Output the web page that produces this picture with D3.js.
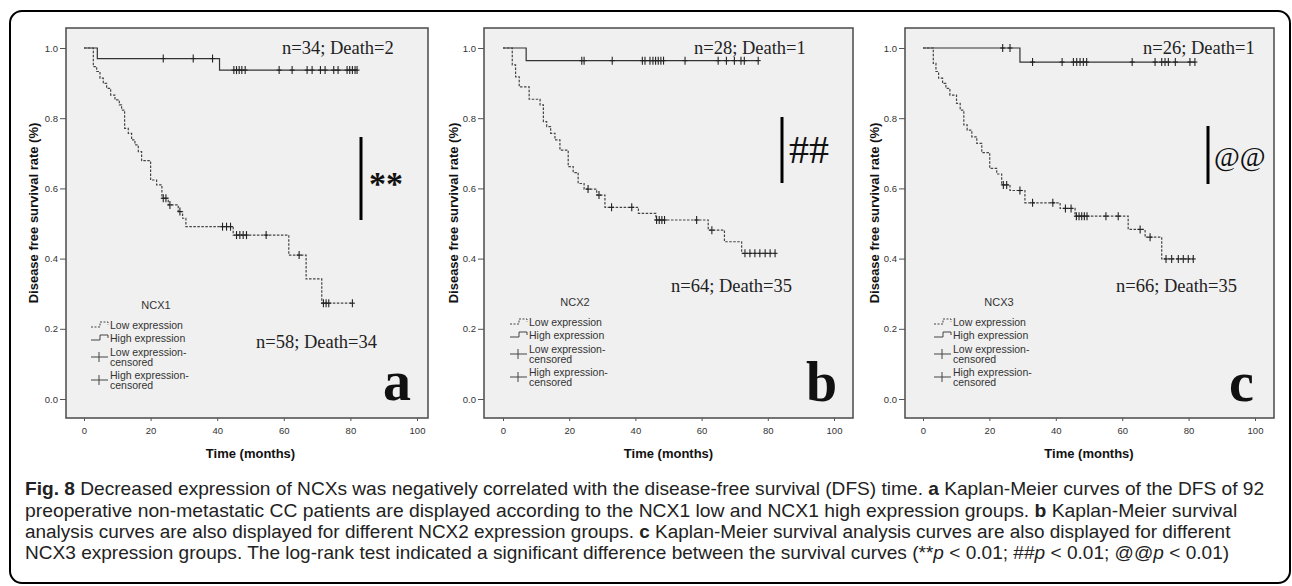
<!DOCTYPE html>
<html>
<head>
<meta charset="utf-8">
<script src="https://cdn.jsdelivr.net/npm/d3@7"></script>
<style>
  html, body { margin: 0; padding: 0; background: #fff; }
  svg { display: block; }
</style>
</head>
<body>
<svg id="canvas" width="1292" height="586"></svg>
<script>
const timeTicks = [0, 20, 40, 60, 80, 100]
const rateTicks = [0.0, 0.2, 0.4, 0.6, 0.8, 1.0]
const legendLabels = ["Low expression", "High expression", "Low expression-|censored", "High expression-|censored"]

// NCX1 (panel a)
const ncx1HighSteps = [[0, 1], [4, 0.970], [40.7, 0.937]]
const ncx1HighEnd = 82
const ncx1HighCensor = [23.8, 32.8, 38.6, 45, 45.8, 46.6, 47.4, 48.4, 58.6, 62.5, 67, 68.5, 71, 72.4, 75, 76.3, 79, 79.8, 80.6, 81.4, 82]
const ncx1LowSteps = [[0, 1], [2.8, 0.947], [3.8, 0.933], [4.8, 0.914], [5.8, 0.899], [6.8, 0.885], [8, 0.866], [9.3, 0.852],
  [10.6, 0.838], [11.3, 0.823], [12.2, 0.771], [13.3, 0.757], [14.3, 0.738], [15.3, 0.724], [16.3, 0.705], [17.3, 0.679],
  [20, 0.624], [21.8, 0.610], [23.4, 0.572], [25.3, 0.553], [28.3, 0.534], [29.6, 0.515], [30.6, 0.491], [44.8, 0.467],
  [61.5, 0.410], [66.7, 0.342], [71.4, 0.273]]
const ncx1LowEnd = 80.6
const ncx1LowCensor = [23.8, 24.6, 25.8, 28.8, 41.6, 42.8, 44.0, 45.8, 46.8, 47.8, 48.8, 54.7, 64.6, 71.9, 72.7, 73.5, 80.6]

// NCX2 (panel b)
const ncx2HighSteps = [[0, 1], [7, 0.964]]
const ncx2HighEnd = 77.1
const ncx2HighCensor = [23.8, 24.5, 33.0, 42.1, 42.9, 44.4, 45.3, 46.1, 46.9, 47.7, 48.5, 55.0, 65.0, 67.5, 69.9, 71.9, 72.9, 77.1]
const ncx2LowSteps = [[0, 1], [2.8, 0.952], [3.8, 0.918], [4.9, 0.889], [7.9, 0.854], [11.2, 0.838], [12.2, 0.790],
  [13.2, 0.776], [14.4, 0.757], [15.7, 0.738], [17.2, 0.709], [19.7, 0.662], [21.2, 0.645], [22.7, 0.614], [24.5, 0.598],
  [28.3, 0.581], [30.8, 0.546], [40.9, 0.529], [46.2, 0.510], [62.0, 0.481], [66.9, 0.448], [72.1, 0.415]]
const ncx2LowEnd = 82.2
const ncx2LowCensor = [25.7, 29.0, 32.8, 38.9, 46.4, 47.2, 48.0, 48.8, 58.5, 63.1, 73.1, 74.6, 76.1, 77.6, 79.2, 80.7, 82.2]

// NCX3 (panel c)
const ncx3HighSteps = [[0, 1], [29.2, 0.960]]
const ncx3HighEnd = 81.9
const ncx3HighCensor = [24.0, 26.2, 33.0, 41.9, 45.3, 46.3, 47.3, 48.3, 49.3, 63.0, 69.9, 71.9, 72.9, 73.9, 76.0, 80.4, 81.9]
const ncx3LowSteps = [[0, 1], [3.1, 0.956], [3.9, 0.933], [4.7, 0.914], [5.9, 0.899], [6.9, 0.885], [8.1, 0.866], [10.1, 0.842],
  [11.2, 0.823], [12.3, 0.781], [13.3, 0.766], [14.7, 0.747], [16.2, 0.728], [17.7, 0.702], [20.1, 0.657], [22.2, 0.641],
  [23.7, 0.610], [26.2, 0.594], [30.7, 0.559], [41.3, 0.543], [45.8, 0.521], [61.8, 0.483], [66.9, 0.461], [71.9, 0.399]]
const ncx3LowEnd = 81.5
const ncx3LowCensor = [24.2, 25.2, 29.2, 33.0, 39.1, 42.9, 44.6, 46.2, 47.0, 47.8, 48.6, 49.4, 55.1, 58.8, 65.4, 68.4, 73.2, 74.9, 76.9, 78.4, 79.9, 81.4]

const groupNames = ["NCX1", "NCX2", "NCX3"]
const highCounts = ["n=34; Death=2", "n=28; Death=1", "n=26; Death=1"]
const lowCounts = ["n=58; Death=34", "n=64; Death=35", "n=66; Death=35"]
const signifMarks = ["**", "##", "@@"]
const panelLetters = ["a", "b", "c"]

const captionLines = [
  [["Fig. 8", "b"], [" Decreased expression of NCXs was negatively correlated with the disease-free survival (DFS) time. "], ["a", "b"], [" Kaplan-Meier curves of the DFS of 92"]],
  [["preoperative non-metastatic CC patients are displayed according to the NCX1 low and NCX1 high expression groups. "], ["b", "b"], [" Kaplan-Meier survival"]],
  [["analysis curves are also displayed for different NCX2 expression groups. "], ["c", "b"], [" Kaplan-Meier survival analysis curves are also displayed for different"]],
  [["NCX3 expression groups. The log-rank test indicated a significant difference between the survival curves (**"], ["p", "i"], [" < 0.01; ##"], ["p", "i"], [" < 0.01; @@"], ["p", "i"], [" < 0.01)"]]
]

const panels = [
  { frame: [66, 28, 428, 418], xr: [84, 417], yTitleX: 38, legX: 91, legDy: 3,
    high: ncx1HighSteps, highEnd: ncx1HighEnd, highCens: ncx1HighCensor,
    low: ncx1LowSteps, lowEnd: ncx1LowEnd, lowCens: ncx1LowCensor,
    hiTxt: [282, 54], loTxt: [256, 348], bar: [361, 137, 220],
    sig: { x: 369, y: 195, size: 34, weight: "bold" }, letter: [383, 400] },
  { frame: [484, 28, 853, 418], xr: [503, 834], yTitleX: 458, legX: 510, legDy: 0,
    high: ncx2HighSteps, highEnd: ncx2HighEnd, highCens: ncx2HighCensor,
    low: ncx2LowSteps, lowEnd: ncx2LowEnd, lowCens: ncx2LowCensor,
    hiTxt: [694, 54], loTxt: [671, 292], bar: [782, 117, 183],
    sig: { x: 789, y: 163, size: 40, weight: "normal" }, letter: [806, 401] },
  { frame: [905, 28, 1274, 418], xr: [923, 1255], yTitleX: 879, legX: 934, legDy: 0,
    high: ncx3HighSteps, highEnd: ncx3HighEnd, highCens: ncx3HighCensor,
    low: ncx3LowSteps, lowEnd: ncx3LowEnd, lowCens: ncx3LowCensor,
    hiTxt: [1143, 54], loTxt: [1116, 292], bar: [1208, 126, 184],
    sig: { x: 1214, y: 166, size: 28, weight: "normal" }, letter: [1229, 401] },
]

const svg = d3.select("#canvas")

// outer rounded box
svg.append("rect")
  .attr("x", 10).attr("y", 11).attr("width", 1280).attr("height", 572).attr("rx", 12)
  .attr("fill", "none").attr("stroke", "#000").attr("stroke-width", 2)

const stepAt = (steps, t) => {
  let s = steps[0][1]
  steps.forEach(p => { if (p[0] <= t) s = p[1] })
  return s
}

const drawPanel = (p, i) => {
  const [fx0, fy0, fx1, fy1] = p.frame
  const x = d3.scaleLinear().domain([0, 100]).range(p.xr)
  const y = d3.scaleLinear().domain([0, 1]).range([399, 48])
  const g = svg.append("g")

  g.append("rect")
    .attr("x", fx0).attr("y", fy0).attr("width", fx1 - fx0).attr("height", fy1 - fy0)
    .attr("fill", "#f0f0f0").attr("stroke", "#4a4a4a").attr("stroke-width", 1.5)

  // y axis ticks
  const yAxis = g.append("g").attr("transform", `translate(${fx0},0)`)
    .call(d3.axisLeft(y).tickValues(rateTicks).tickFormat(d3.format(".1f")).tickSize(6).tickPadding(2))
  yAxis.select(".domain").remove()
  yAxis.selectAll("line").attr("stroke", "#555")
  yAxis.selectAll("text").attr("font-family", "Liberation Sans, Arial, sans-serif").attr("font-size", 9.5).attr("fill", "#333")

  const xAxis = g.append("g").attr("transform", `translate(0,${fy1})`)
    .call(d3.axisBottom(x).tickValues(timeTicks).tickSize(3).tickPadding(6))
  xAxis.select(".domain").remove()
  xAxis.selectAll("line").attr("stroke", "#555")
  xAxis.selectAll("text").attr("font-family", "Liberation Sans, Arial, sans-serif").attr("font-size", 9.5).attr("fill", "#333")

  g.append("text")
    .attr("transform", `translate(${p.yTitleX},213) rotate(-90)`)
    .attr("text-anchor", "middle")
    .attr("font-family", "Liberation Sans, Arial, sans-serif").attr("font-weight", "bold").attr("font-size", 13)
    .attr("fill", "#111")
    .text("Disease free survival rate (%)")
  g.append("text")
    .attr("x", (p.xr[0] + p.xr[1]) / 2).attr("y", 458)
    .attr("text-anchor", "middle")
    .attr("font-family", "Liberation Sans, Arial, sans-serif").attr("font-weight", "bold").attr("font-size", 13)
    .attr("fill", "#111")
    .text("Time (months)")

  const line = d3.line().x(d => x(d[0])).y(d => y(d[1])).curve(d3.curveStepAfter)

  const lowPts = p.low.concat([[p.lowEnd, p.low[p.low.length - 1][1]]])
  g.append("path").attr("d", line(lowPts))
    .attr("fill", "none").attr("stroke", "#444").attr("stroke-width", 1.2).attr("stroke-dasharray", "2.5,1.5")
  const highPts = p.high.concat([[p.highEnd, p.high[p.high.length - 1][1]]])
  g.append("path").attr("d", line(highPts))
    .attr("fill", "none").attr("stroke", "#333").attr("stroke-width", 1.2)

  const drawCensor = (times, steps) => {
    g.selectAll(null).data(times).enter().append("line")
      .attr("x1", d => x(d)).attr("x2", d => x(d))
      .attr("y1", d => y(stepAt(steps, d)) - 4).attr("y2", d => y(stepAt(steps, d)) + 4)
      .attr("stroke", "#222").attr("stroke-width", 1.1)
    g.selectAll(null).data(times).enter().append("line")
      .attr("x1", d => x(d) - 2.5).attr("x2", d => x(d) + 2.5)
      .attr("y1", d => y(stepAt(steps, d))).attr("y2", d => y(stepAt(steps, d)))
      .attr("stroke", "#222").attr("stroke-width", 1.1)
  }
  drawCensor(p.lowCens, p.low)
  drawCensor(p.highCens, p.high)

  // counts
  const serif = "Liberation Serif, Times New Roman, serif"
  g.append("text").attr("x", p.hiTxt[0]).attr("y", p.hiTxt[1])
    .attr("font-family", serif).attr("font-size", 18.5).attr("fill", "#222").text(highCounts[i])
  g.append("text").attr("x", p.loTxt[0]).attr("y", p.loTxt[1])
    .attr("font-family", serif).attr("font-size", 18.5).attr("fill", "#222").text(lowCounts[i])

  g.append("line").attr("x1", p.bar[0]).attr("x2", p.bar[0]).attr("y1", p.bar[1]).attr("y2", p.bar[2])
    .attr("stroke", "#000").attr("stroke-width", 3)
  g.append("text").attr("x", p.sig.x).attr("y", p.sig.y)
    .attr("font-family", serif).attr("font-size", p.sig.size).attr("font-weight", p.sig.weight)
    .attr("fill", "#111").text(signifMarks[i])
  g.append("text").attr("x", p.letter[0]).attr("y", p.letter[1])
    .attr("font-family", serif).attr("font-size", 56).attr("font-weight", "bold")
    .attr("fill", "#111").text(panelLetters[i])

  // legend
  const lx = p.legX, dy = p.legDy
  const sans = "Liberation Sans, Arial, sans-serif"
  g.append("text").attr("x", lx + 65).attr("y", 306 + dy).attr("text-anchor", "middle")
    .attr("font-family", sans).attr("font-size", 11).attr("fill", "#333").text(groupNames[i])
  const rows = [322, 335, 349, 372]
  legendLabels.forEach((lab, k) => {
    const ry = rows[k] + dy
    const parts = lab.split("|")
    const t = g.append("text").attr("x", lx + 19).attr("y", ry + 3.5)
      .attr("font-family", sans).attr("font-size", 10.5).attr("fill", "#333")
    parts.forEach((s, j) => t.append("tspan").attr("x", lx + 19).attr("dy", j ? 10.5 : 0).text(s))
    if (k < 2) {
      g.append("path").attr("d", `M${lx},${ry + 2} H${lx + 9} V${ry - 3} H${lx + 17} V${ry}`)
        .attr("fill", "none").attr("stroke", "#444").attr("stroke-width", 1)
        .attr("stroke-dasharray", k === 0 ? "2,1.5" : null)
    } else {
      const cy = ry + 5
      g.append("line").attr("x1", lx).attr("x2", lx + 17).attr("y1", cy).attr("y2", cy)
        .attr("stroke", "#444").attr("stroke-width", 1)
      g.append("line").attr("x1", lx + 8).attr("x2", lx + 8).attr("y1", cy - 5).attr("y2", cy + 5)
        .attr("stroke", "#444").attr("stroke-width", 1)
    }
  })
}

panels.forEach(drawPanel)

// caption: narrow the lines with a horizontal scale so they fit like the condensed original
const capWidths = [1240, 1213, 1206, 1205]
const capBase = [495, 517, 538, 559]
captionLines.forEach((segs, k) => {
  const cg = svg.append("g").attr("transform", `translate(25,${capBase[k]})`)
  const t = cg.append("text").attr("x", 0).attr("y", 0)
    .attr("font-family", "Liberation Sans, Arial, sans-serif").attr("font-size", 18).attr("fill", "#222")
  segs.forEach(s => {
    const sp = t.append("tspan").text(s[0])
    if (s[1] === "b") sp.attr("font-weight", "bold")
    if (s[1] === "i") sp.attr("font-style", "italic")
  })
  const w = t.node().getComputedTextLength()
  cg.attr("transform", `translate(25,${capBase[k]}) scale(${capWidths[k] / w},1)`)
})
</script>
</body>
</html>
